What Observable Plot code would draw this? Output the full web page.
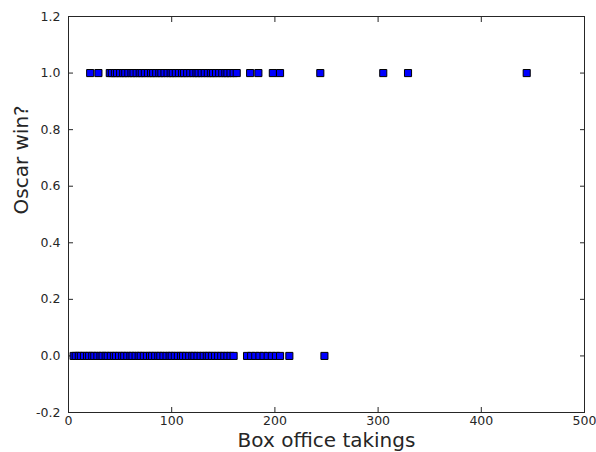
<!DOCTYPE html>
<html>
<head>
<meta charset="utf-8">
<script src="https://cdn.jsdelivr.net/npm/d3@7"></script>
<script src="https://cdn.jsdelivr.net/npm/@observablehq/plot@0.6"></script>
<style>
  body { margin: 0; background: #fff; }
</style>
</head>
<body>
<div id="chart"></div>
<script>
// Box office takings (millions) of films that won an Oscar
const wonTakings = [
  21, 29,
  40, 42, 45, 47, 50, 53, 55, 58, 61, 63, 66, 69, 71, 74, 77, 80, 82, 85,
  88, 90, 93, 96, 99, 101, 104, 107, 110, 112, 115, 118, 121, 124, 126, 129,
  132, 135, 138, 140, 143, 146, 149, 152, 154, 157, 160, 163,
  176, 184, 198, 205, 244, 305, 329, 444
];
// Box office takings (millions) of films that did not win
const lostTakings = [
  5, 7, 10, 12, 15, 18, 20, 23, 25, 28, 31, 33, 36, 38, 41, 44, 46, 49, 52,
  54, 57, 60, 62, 65, 68, 70, 73, 76, 79, 81, 84, 87, 89, 92, 95, 98, 100,
  103, 106, 109, 111, 114, 117, 120, 122, 125, 128, 131, 134, 136, 139, 142,
  145, 148, 151, 154, 157, 160,
  173, 177, 181, 185, 189, 193, 197, 201, 205, 214, 248
];
const xTicks = [0, 100, 200, 300, 400, 500];
const yTicks = [-0.2, 0, 0.2, 0.4, 0.6, 0.8, 1.0, 1.2];
const xLabel = "Box office takings";
const yLabel = "Oscar win?";

const films = [
  ...wonTakings.map(t => ({ takings: t, won: 1 })),
  ...lostTakings.map(t => ({ takings: t, won: 0 }))
];

const ink = "#262626";

const chart = Plot.plot({
  width: 596,
  height: 452,
  marginLeft: 68,
  marginRight: 12,
  marginTop: 16,
  marginBottom: 40,
  style: { fontFamily: "'DejaVu Sans', sans-serif", fontSize: "12.5px", color: ink, background: "#fff", overflow: "visible" },
  x: { domain: [0, 500] },
  y: { domain: [-0.2, 1.2] },
  marks: [
    // inward-pointing ticks on all four sides, labels only bottom and left
    Plot.axisX(xTicks, { anchor: "bottom", tickSize: -5, tickPadding: 9, tickFormat: d => String(d), label: null, fontSize: 12.5 }),
    Plot.axisX(xTicks, { anchor: "top", tickSize: -5, tickFormat: () => "", label: null }),
    Plot.axisY(yTicks, { anchor: "left", tickSize: -5, tickPadding: 13, tickFormat: d => d.toFixed(1), label: null, fontSize: 12.5 }),
    Plot.axisY(yTicks, { anchor: "right", tickSize: -5, tickFormat: () => "", label: null }),
    Plot.frame({ stroke: ink, strokeWidth: 1 }),
    Plot.dot(films, {
      x: "takings", y: "won", symbol: "square", r: 4,
      fill: "#0000ff", stroke: "#000", strokeWidth: 1
    }),
    Plot.text([xLabel], { frameAnchor: "bottom", dy: 28, lineAnchor: "middle", fontSize: 20, text: d => d, fill: ink }),
    Plot.text([yLabel], { frameAnchor: "left", dx: -47, rotate: -90, fontSize: 20, text: d => d, fill: ink })
  ]
});

document.getElementById("chart").appendChild(chart);
</script>
</body>
</html>
